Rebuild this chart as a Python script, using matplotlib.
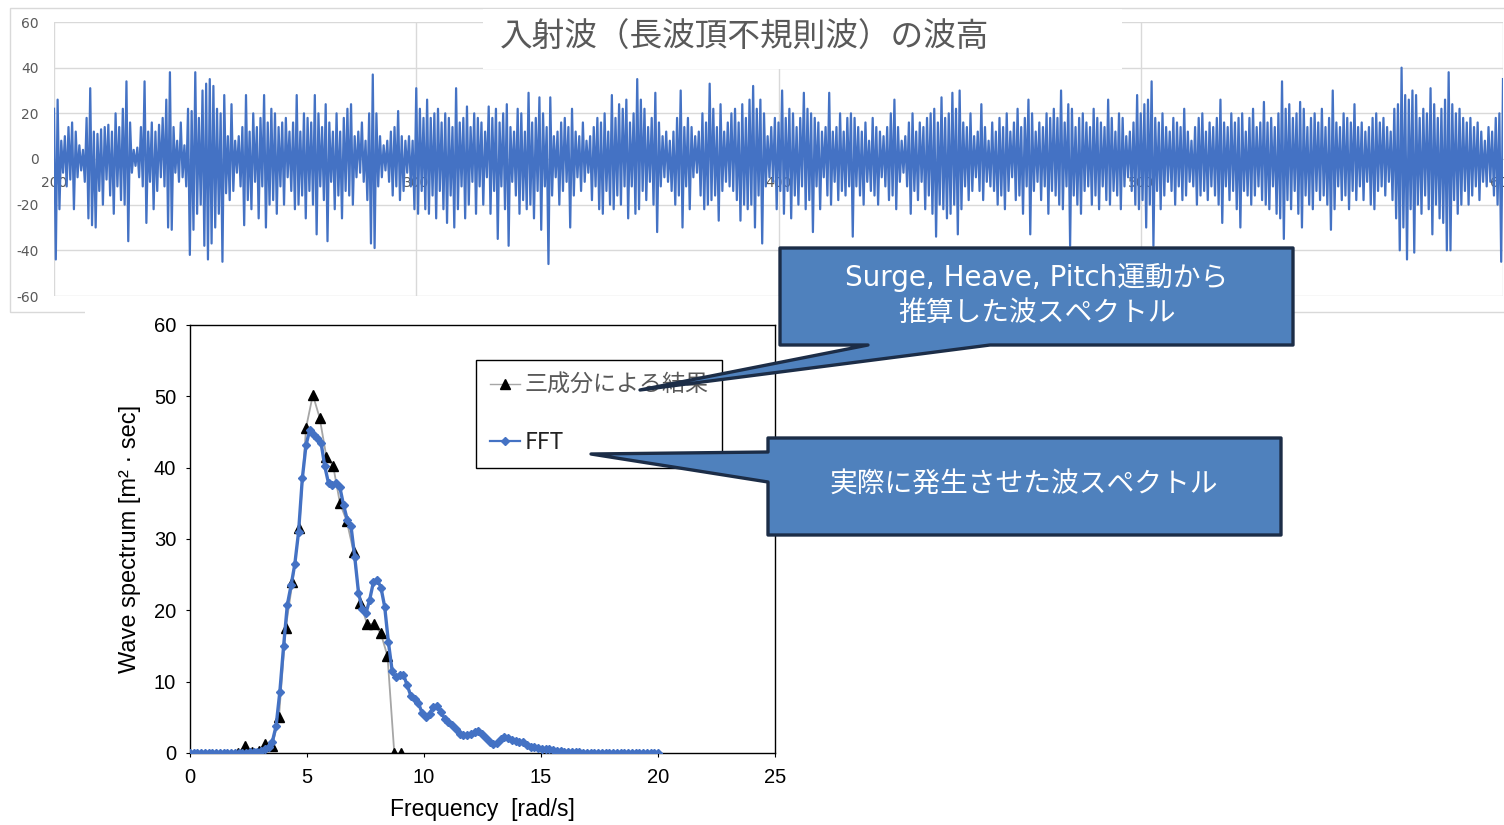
import numpy as np
import matplotlib
matplotlib.use('Agg')
import matplotlib.pyplot as plt
from matplotlib.patches import Polygon, Rectangle
from matplotlib.lines import Line2D

plt.rcParams['axes.unicode_minus'] = False

W, H = 1504, 825

# incident wave height time series (sampled every 0.5 s from 200 s to 600 s)
wave = [22,-44,26,-22,8,-6,10,-12,14,-9,16,-22,12,-8,6,-5,4,-10,18,-26,31,-29,12,-30,11,-14,13,-20,14,-9,15,-16,12,-24,20,-12,14,-18,22,-20,
        34,-36,16,-6,4,-3,5,-8,14,-12,34,-28,12,-10,16,-22,12,-14,15,-8,18,-12,26,-30,38,-31,14,-6,8,-10,16,-8,6,-12,22,-42,21,-31,38,-24,
        18,-20,30,-38,33,-44,35,-37,32,-30,22,-24,20,-45,28,-15,10,-18,24,-14,8,-6,10,-12,14,-29,28,-18,12,-22,20,-10,14,-26,18,-12,28,-30,16,-20,
        22,-18,20,-24,14,-12,16,-20,18,-8,12,-14,16,-22,28,-20,12,-16,20,-26,18,-14,16,-20,28,-33,20,-12,14,-18,24,-36,16,-10,12,-22,20,-16,12,-26,
        18,-14,22,-16,24,-20,10,-8,12,-6,16,-10,8,-18,20,-37,37,-39,20,-12,10,-8,6,-5,8,-10,12,-16,14,-12,21,-18,10,-14,8,-6,10,-12,8,-22,
        31,-24,22,-14,18,-22,26,-24,18,-16,20,-26,22,-14,16,-22,20,-28,18,-16,14,-30,31,-22,16,-12,18,-26,23,-20,14,-10,20,-24,18,-12,16,-20,12,-8,
        23,-24,18,-14,22,-35,16,-12,20,-22,24,-38,14,-10,12,-16,22,-24,20,-18,12,-22,29,-20,16,-26,18,-14,27,-31,20,-12,14,-46,27,-16,10,-8,12,-20,
        16,-14,18,-10,14,-30,22,-16,12,-8,10,-14,16,-10,8,-6,10,-18,14,-12,18,-22,16,-24,20,-14,12,-20,28,-22,18,-16,24,-20,22,-12,26,-26,16,-12,
        20,-24,35,-22,26,-14,22,-18,14,-10,18,-20,29,-32,16,-12,10,-8,12,-10,8,-14,12,-20,18,-16,30,-30,14,-12,18,-22,14,-8,10,-6,12,-16,20,-22,
        16,-20,33,-18,22,-16,14,-27,24,-14,12,-10,16,-12,20,-14,22,-18,16,-27,24,-20,18,-22,26,-20,32,-30,22,-16,26,-37,20,-12,10,-8,14,-10,18,-22,
        16,-14,30,-24,18,-14,22,-26,20,-16,14,-20,18,-12,29,-22,22,-18,20,-32,18,-12,16,-22,12,-8,14,-16,29,-20,12,-10,14,-18,20,-14,12,-16,18,-12,
        20,-34,18,-12,14,-16,12,-20,16,-10,8,-14,18,-16,14,-20,12,-8,10,-12,14,-18,20,-16,26,-22,14,-10,8,-6,10,-12,16,-24,20,-14,12,-18,16,-10,
        14,-22,18,-16,20,-24,22,-34,16,-20,27,-22,18,-26,20,-24,29,-20,22,-33,30,-22,16,-12,14,-18,20,-14,10,-8,12,-14,24,-18,14,-10,8,-12,16,-14,
        12,-20,18,-16,14,-22,20,-14,12,-8,16,-18,22,-16,14,-24,18,-12,26,-33,20,-14,12,-10,16,-18,14,-12,20,-24,18,-14,22,-16,18,-20,30,-22,16,-12,
        24,-38,22,-16,14,-20,18,-24,20,-14,16,-12,14,-20,22,-16,18,-22,16,-12,14,-18,26,-20,18,-14,12,-16,20,-22,18,-12,10,-8,12,-14,16,-20,28,-22,
        20,-18,24,-30,26,-20,34,-38,18,-14,16,-22,20,-16,14,-10,12,-14,18,-20,16,-12,14,-18,22,-16,12,-10,8,-12,14,-20,18,-16,20,-14,12,-18,16,-12,
        14,-16,18,-20,26,-28,16,-12,14,-18,20,-14,16,-22,18,-30,20,-14,12,-16,18,-20,22,-16,14,-12,16,-18,25,-20,16,-22,18,-12,14,-24,20,-26,34,-35,
        22,-18,24,-22,18,-14,20,-24,25,-30,22,-16,14,-20,18,-22,20,-14,16,-18,22,-16,14,-20,18,-31,30,-22,16,-12,14,-18,20,-16,18,-22,16,-14,24,-18,
        14,-12,16,-18,12,-10,14,-20,18,-22,20,-14,16,-12,18,-16,14,-10,12,-18,22,-26,24,-40,40,-30,28,-44,26,-22,30,-41,28,-20,18,-24,22,-16,20,-22,
        31,-33,24,-20,18,-26,22,-28,26,-40,38,-40,24,-18,20,-24,22,-20,18,-14,16,-20,18,-16,14,-12,16,-18,12,-10,8,-12,14,-10,12,-16,18,-20,20,-45,
        35]
wave_t = np.linspace(200, 600, len(wave))

# FFT wave spectrum (evenly spaced 0 - 20 rad/s)
fft_val = [0,0,0,0,0,0,0,0,0,0,0,0,0,0,0,0,
           0.1,0.1,0.2,
           0.3,0.6,0.9,1.6,3.8,8.6,15.0,20.8,23.5,26.5,31.0,38.5,43.2,
           45.3,44.6,44.2,43.5,40.2,37.8,37.6,37.9,37.3,34.8,32.7,31.8,27.5,
           22.5,20.2,19.6,21.5,24.0,24.3,23.2,20.5,15.5,11.5,10.6,10.9,11.0,
           9.5,8.0,7.6,7.0,5.6,5.0,5.5,6.5,6.6,5.8,4.8,4.3,3.9,
           3.4,2.7,2.5,2.5,2.6,2.9,3.1,2.7,2.1,1.6,1.2,1.4,2.0,
           2.3,2.1,1.8,1.7,1.6,1.5,1.1,0.9,0.8,0.7,0.6,0.6,0.5,
           0.4,0.35,0.3,0.2,0.15,
           0.1,0.1,0.1,0.05,0.05,0.05,0,0,0,0,0,0,0,0,0,0,0,0,0,0,0,0,0,0]
fft_freq = np.linspace(0, 20, len(fft_val))

# spectrum estimated from surge / heave / pitch
est_freq = [2.05, 2.35, 2.64, 2.93, 3.22, 3.51, 3.80, 4.09, 4.38, 4.67, 4.96, 5.25, 5.54,
            5.83, 6.12, 6.41, 6.70, 6.99, 7.28, 7.57, 7.86, 8.15, 8.44, 8.73, 9.02]
est_val = [0.0, 1.0, 0.2, 0.3, 1.2, 1.0, 5.0, 17.5, 24.0, 31.6, 45.6, 50.2, 47.0,
           41.5, 40.2, 35.0, 32.5, 28.2, 21.0, 18.1, 18.1, 16.8, 13.6, 0.0, 0.0]

title = '入射波（長波頂不規則波）の波高'
label_est = '三成分による結果'
label_fft = 'FFT'
callout1 = 'Surge, Heave, Pitch運動から\n推算した波スペクトル'
callout2 = '実際に発生させた波スペクトル'

JP = ['Noto Sans CJK JP', 'DejaVu Sans']
ARIAL = ['Liberation Sans', 'DejaVu Sans']
blue = '#4472C4'


def fr(x, y, w, h):
    # pixel box (top-left origin) -> figure fraction rect
    return [x / W, 1 - (y + h) / H, w / W, h / H]


def fp(x, y):
    return (x / W, 1 - y / H)


fig = plt.figure(figsize=(W / 100, H / 100), dpi=100)
fig.patch.set_facecolor('white')

# top chart: wave height time series
ax1 = fig.add_axes(fr(54, 22, 1449, 274))
ax1.plot(wave_t, wave, color=blue, lw=1.6, zorder=3)
ax1.set_xlim(200, 600)
ax1.set_ylim(-60, 60)
ax1.set_xticks([200, 300, 400, 500, 600])
ax1.set_yticks(range(-60, 61, 20))
ax1.grid(color='#d9d9d9', lw=1)
ax1.set_axisbelow(True)
for s in ['top', 'right', 'left']:
    ax1.spines[s].set_visible(False)
ax1.spines['bottom'].set_position(('data', 0))
ax1.spines['bottom'].set_color('#d9d9d9')
ax1.spines['bottom'].set_zorder(0.5)
ax1.tick_params(axis='both', length=0, colors='#595959', labelsize=10)
ax1.tick_params(axis='x', pad=12)
ax1.tick_params(axis='y', pad=11)

# outer frame of the top chart
fig.patches.append(Rectangle(fp(10, 312), 1600 / W, 304 / H, transform=fig.transFigure,
                             facecolor='none', edgecolor='#d9d9d9', lw=1, zorder=1))
# title box
fig.patches.append(Rectangle(fp(483, 69), 639 / W, 60 / H, transform=fig.transFigure,
                             facecolor='white', edgecolor='none', zorder=1))
fig.text(745 / W, 1 - 38 / H, title, family=JP, fontsize=23.5, color='#595959',
         ha='center', va='center', zorder=2)
# white background of the spectrum picture
fig.patches.append(Rectangle(fp(85, 825), 700 / W, 522 / H, transform=fig.transFigure,
                             facecolor='white', edgecolor='none', zorder=1))

# bottom chart: wave spectrum
ax2 = fig.add_axes(fr(190, 325, 585, 428), zorder=2)
ax2.plot(est_freq, est_val, color='#a6a6a6', lw=1.3, marker='^', ms=7.5,
         mfc='black', mec='black', zorder=3)
ax2.plot(fft_freq, fft_val, color=blue, lw=2.4, marker='D', ms=4.3,
         mfc=blue, mec=blue, zorder=4)
ax2.set_xlim(0, 25)
ax2.set_ylim(0, 60)
ax2.set_xticks(range(0, 26, 5))
ax2.set_yticks(range(0, 61, 10))
for s in ax2.spines.values():
    s.set_color('black')
    s.set_linewidth(1.0)
ax2.tick_params(direction='out', length=3, labelsize=14.5)
ax2.tick_params(axis='x', pad=8)
ax2.tick_params(axis='y', pad=7)
for lab in ax2.get_xticklabels() + ax2.get_yticklabels():
    lab.set_family(ARIAL)
ax2.set_xlabel('Frequency  [rad/s]', family=ARIAL, fontsize=16.5, labelpad=8)
ax2.set_ylabel('Wave spectrum [m² · sec]', family=ARIAL, fontsize=17, labelpad=9)

handles = [Line2D([], [], color='#a6a6a6', lw=1, marker='^', ms=6.5, mfc='black', mec='black'),
           Line2D([], [], color=blue, lw=1.6, marker='D', ms=4, mfc=blue, mec=blue)]
leg = ax2.legend(handles, [label_est, label_fft], loc='upper left',
                 bbox_to_anchor=((476 - 190) / 585, (753 - 360) / 428),
                 borderaxespad=0, prop={'family': JP, 'size': 16.6},
                 frameon=True, fancybox=False, edgecolor='black', framealpha=1,
                 handlelength=1.3, handletextpad=0.2, labelspacing=1.5, borderpad=0.6)
leg.get_frame().set_linewidth(1.0)
leg.get_texts()[0].set_color('#595959')
leg.get_texts()[1].set_color('#222222')

# callouts
fill = '#4f81bd'
edge = '#1c2d47'
poly1 = [(780, 248), (1293, 248), (1293, 345), (990, 345), (640, 390), (868, 345), (780, 345)]
poly2 = [(768, 438), (1281, 438), (1281, 535), (768, 535), (768, 482), (591, 454), (768, 452)]
for poly in (poly1, poly2):
    fig.patches.append(Polygon([fp(x, y) for x, y in poly], closed=True,
                               transform=fig.transFigure, facecolor=fill,
                               edgecolor=edge, lw=2.4, joinstyle='round', zorder=5))
fig.text(1037 / W, 1 - 295 / H, callout1, family=['DejaVu Sans', 'Noto Sans CJK JP'],
         fontsize=20, color='white', ha='center', va='center', linespacing=1.28, zorder=6)
fig.text(1024 / W, 1 - 485 / H, callout2, family=JP,
         fontsize=20, color='white', ha='center', va='center', zorder=6)

fig.savefig('out.png', dpi=100)
